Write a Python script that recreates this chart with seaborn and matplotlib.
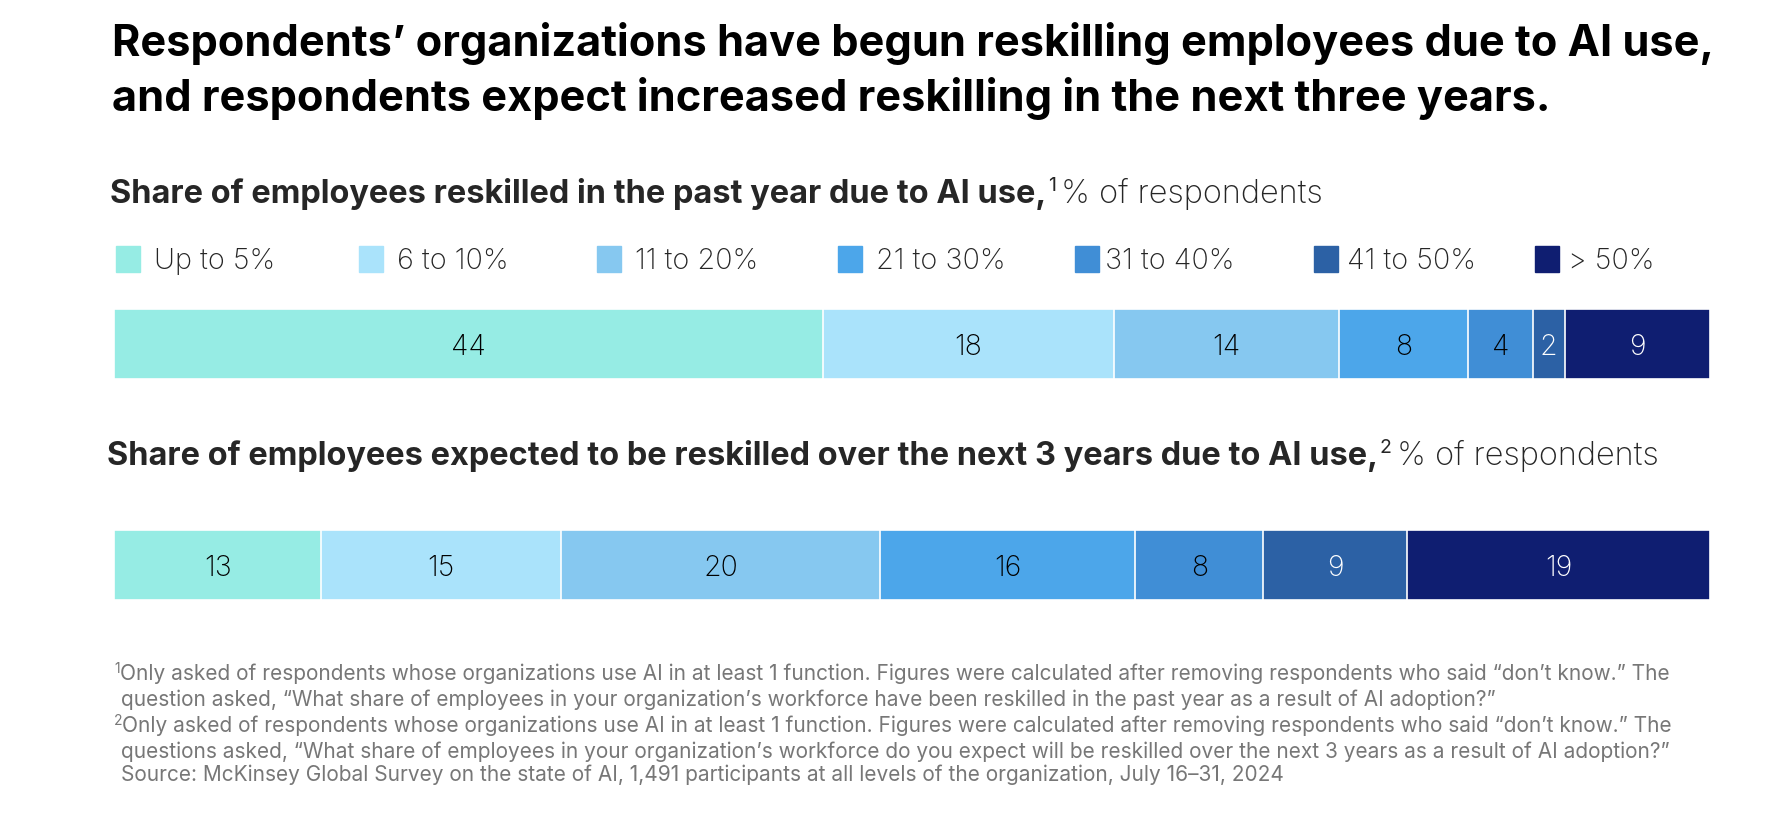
import pandas as pd
import matplotlib.pyplot as plt
import seaborn as sns

# data
categories = ['Up to 5%', '6 to 10%', '11 to 20%', '21 to 30%', '31 to 40%', '41 to 50%', '> 50%']
past_year = [44, 18, 14, 8, 4, 2, 9]
next_3_years = [13, 15, 20, 16, 8, 9, 19]
colors = ['#96ECE4', '#AAE3FB', '#86C8F0', '#4CA6EA', '#408ED6', '#2C61A5', '#0F1E71']
label_colors = ['black', 'black', 'black', 'black', 'black', 'white', 'white']

title_lines = ['Respondents\u2019 organizations have begun reskilling employees due to AI use,',
               'and respondents expect increased reskilling in the next three years.']
sub1 = 'Share of employees reskilled in the past year due to AI use,'
sub2 = 'Share of employees expected to be reskilled over the next 3 years due to AI use,'
notes = [
    ('1', 'Only asked of respondents whose organizations use AI in at least 1 function. Figures were calculated after removing respondents who said \u201cdon\u2019t know.\u201d The'),
    ('', 'question asked, \u201cWhat share of employees in your organization\u2019s workforce have been reskilled in the past year as a result of AI adoption?\u201d'),
    ('2', 'Only asked of respondents whose organizations use AI in at least 1 function. Figures were calculated after removing respondents who said \u201cdon\u2019t know.\u201d The'),
    ('', 'questions asked, \u201cWhat share of employees in your organization\u2019s workforce do you expect will be reskilled over the next 3 years as a result of AI adoption?\u201d'),
    ('', 'Source: McKinsey Global Survey on the state of AI, 1,491 participants at all levels of the organization, July 16\u201331, 2024'),
]

sns.set_theme(style='white')
plt.rcParams['font.family'] = ['Inter', 'DejaVu Sans']

W, H = 1786, 822
fig = plt.figure(figsize=(W / 100, H / 100), dpi=100)
fig.patch.set_facecolor('white')


def fx(x):
    return x / W


def fy(y):
    return 1 - y / H


def stacked_bar(values, top):
    ax = fig.add_axes([fx(114), fy(top + 70), fx(1710) - fx(114), 70 / H])
    df = pd.DataFrame({'cat': categories, 'val': values, 'row': 'r'})
    df['cum'] = df['val'].cumsum()
    # draw cumulative bars from the widest to the narrowest
    for i in reversed(range(len(df))):
        sns.barplot(x=[df['cum'][i]], y=['r'], color=colors[i], orient='h',
                    width=1, saturation=1, edgecolor='white', linewidth=1.2, ax=ax)
    for i in range(len(df)):
        mid = df['cum'][i] - df['val'][i] / 2
        ax.text(mid, 0, str(df['val'][i]), ha='center', va='center_baseline',
                fontsize=20.5, color=label_colors[i], fontweight='light')
    ax.set_xlim(0, df['cum'].iloc[-1])
    ax.set_ylim(0.5, -0.5)
    ax.axis('off')
    return ax


stacked_bar(past_year, 309)
stacked_bar(next_3_years, 530)

fig.canvas.draw()
r = fig.canvas.get_renderer()


def right_edge(t):
    return t.get_window_extent(renderer=r).x1 / fig.bbox.width


# title
for line, y in zip(title_lines, [56, 111]):
    fig.text(fx(112), fy(y), line, fontsize=31.2, fontweight='bold', color='black',
             va='baseline', ha='left')


# subtitles with superscripts
def subtitle(x, y, bold, sup):
    t = fig.text(fx(x), fy(y), bold, fontsize=23.4, fontweight='bold', va='baseline')
    s = fig.text(right_edge(t) + 0.0008, fy(y - 12), sup, fontsize=14, va='baseline')
    fig.text(right_edge(s) + 0.003, fy(y), '% of respondents', fontsize=23.4,
             fontweight='light', va='baseline')


subtitle(110, 203, sub1, '1')
subtitle(107, 465, sub2, '2')

# legend
legend_x = [116, 359, 597, 838, 1075, 1314, 1535]
legend_gap = [14, 14, 14, 14, 6, 9, 9]
for i, cat in enumerate(categories):
    fig.patches.append(plt.Rectangle((fx(legend_x[i]), fy(272)), 24 / W, 26 / H,
                                     transform=fig.transFigure, color=colors[i]))
    fig.text(fx(legend_x[i] + 24 + legend_gap[i]), fy(269), cat, fontsize=20.7,
             fontweight='light', va='baseline')

# footnotes
note_y = [680, 706, 732, 758, 781]
for (sup, txt), y in zip(notes, note_y):
    if sup:
        s = fig.text(fx(114), fy(y - 7), sup, fontsize=10, color='#777777',
                     va='baseline')
        fig.text(right_edge(s), fy(y), txt, fontsize=15, color='#777777',
                 va='baseline')
    else:
        fig.text(fx(121), fy(y), txt, fontsize=15, color='#777777', va='baseline')

fig.savefig('out.png', dpi=100)
